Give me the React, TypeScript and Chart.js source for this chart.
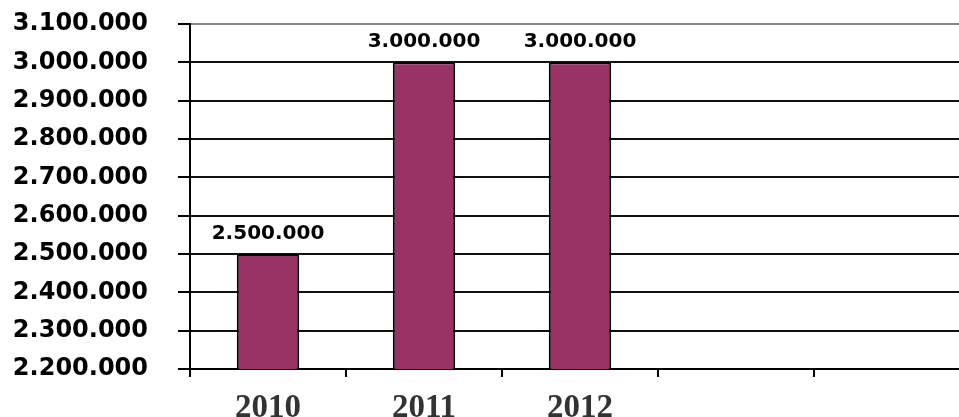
import React, { useEffect, useRef } from "react";
import { Chart, registerables } from "chart.js";

Chart.register(...registerables);

const categories: string[] = ["2010", "2011", "2012", "", ""];
const values: (number | null)[] = [2500000, 3000000, 3000000, null, null];
const yMin = 2200000;
const yMax = 3100000;
const yStep = 100000;

const fmt = (v: number) => Math.round(v).toString().replace(/\B(?=(\d{3})+(?!\d))/g, ".");

const dataLabelPlugin = {
  id: "dataLabels",
  afterDatasetsDraw(chart: any) {
    const ctx = chart.ctx;
    const meta = chart.getDatasetMeta(0);
    ctx.save();
    ctx.font = "bold 20px 'DejaVu Sans'";
    ctx.fillStyle = "#000";
    ctx.textAlign = "center";
    ctx.textBaseline = "alphabetic";
    meta.data.forEach((bar: any, i: number) => {
      const v = values[i];
      if (v == null) return;
      ctx.fillText(fmt(v), bar.x, bar.y - 15);
    });
    ctx.restore();
  },
};

export default function App() {
  const ref = useRef<HTMLCanvasElement | null>(null);
  useEffect(() => {
    if (!ref.current) return;
    const chart = new Chart(ref.current, {
      type: "bar",
      data: {
        labels: categories,
        datasets: [
          {
            data: values,
            backgroundColor: "#993366",
            borderColor: "#000",
            borderWidth: 2,
            categoryPercentage: 1,
            barPercentage: 0.4,
          },
        ],
      },
      options: {
        responsive: false,
        animation: false,
        devicePixelRatio: 1,
        layout: { padding: { top: 24, right: 0, left: 0, bottom: 0 } },
        plugins: { legend: { display: false }, tooltip: { enabled: false } },
        scales: {
          x: {
            grid: {
              offset: true,
              drawOnChartArea: false,
              drawTicks: true,
              tickLength: 8,
              color: "#000",
              lineWidth: 2,
            },
            border: { display: true, color: "#000", width: 2 },
            ticks: {
              padding: 12,
              color: "#333",
              font: { family: "'Liberation Serif'", weight: "bold", size: 33 },
              maxRotation: 0,
              autoSkip: false,
            },
            afterFit: (s: any) => {
              s.height = 48;
              s.paddingTop = 0;
              s.paddingBottom = 0;
            },
          },
          y: {
            min: yMin,
            max: yMax,
            grid: {
              color: (c: any) => (c.tick && c.tick.value === yMax ? "#888" : "#111"),
              tickColor: "#000",
              lineWidth: 2,
              tickLength: 12,
            },
            border: { display: true, color: "#000", width: 2 },
            ticks: {
              stepSize: yStep,
              padding: 30,
              color: "#000",
              font: { family: "'DejaVu Sans'", weight: "bold", size: 24 },
              callback: (v: any) => fmt(Number(v)),
            },
            afterFit: (s: any) => {
              s.width = 190;
              s.paddingTop = 0;
              s.paddingBottom = 0;
            },
          },
        },
      },
      plugins: [dataLabelPlugin],
    } as any);
    return () => chart.destroy();
  }, []);
  return (
    <div
      style={{
        position: "absolute",
        left: 0,
        top: 0,
        width: 959,
        height: 417,
        overflow: "hidden",
        background: "#fff",
      }}
    >
      <canvas ref={ref} width={970} height={417} style={{ display: "block" }} />
    </div>
  );
}
